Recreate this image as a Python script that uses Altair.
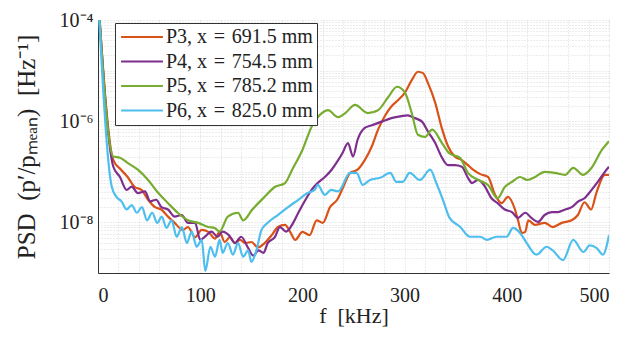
import altair as alt
import pandas as pd

# ---- data (f in kHz, PSD in 1/Hz) ----
series_names = ["P3, x = 691.5 mm", "P4, x = 754.5 mm", "P5, x = 785.2 mm", "P6, x = 825.0 mm"]
series_colors = ["#D95319", "#7E2F8E", "#77AC30", "#4DBEEE"]

p3_f = [0, 15, 22.5, 29, 36, 42.5, 49, 55.8, 62, 68.5, 75, 83, 88, 95, 101.5, 108, 114.5, 119, 124, 129,
        134, 139, 144, 150, 156.6, 163, 170, 176, 183, 188, 193, 200, 207, 214, 220, 227, 234, 240, 246.6,
        254, 261, 268, 274, 281, 287, 293.5, 300, 307, 313, 318, 323, 330, 336, 342.5, 349, 356, 362, 367,
        374, 381.6, 388.5, 395, 401, 408, 411, 414.6, 418, 421, 427.6, 437, 445, 453.7, 463.5, 469.5, 476,
        482.5, 487.6, 496, 500]
p3_v = [3e-4, 1.7e-7, 1.1e-7, 7.9e-8, 5.0e-8, 4.4e-8, 2.8e-8, 2.0e-8, 1.8e-8, 1.3e-8, 9.8e-9, 7.1e-9, 8.1e-9,
        5.1e-9, 7.1e-9, 6.5e-9, 4.8e-9, 6.5e-9, 4.1e-9, 5.1e-9, 3.9e-9, 4.5e-9, 3.9e-9, 4.1e-9, 3.2e-9, 3.9e-9,
        5.6e-9, 8.1e-9, 8.9e-9, 6.5e-9, 4.5e-9, 6.5e-9, 5.6e-9, 1.1e-8, 9.8e-9, 2.0e-8, 2.8e-8, 5.0e-8, 9.5e-8,
        1.1e-7, 1.7e-7, 3.2e-7, 6.8e-7, 1.3e-6, 1.95e-6, 2.6e-6, 3.6e-6, 6.5e-6, 9.5e-6, 8.9e-6, 5.6e-6, 2.3e-6,
        7.8e-7, 3.2e-7, 2.0e-7, 1.7e-7, 1.35e-7, 1.1e-7, 9.0e-8, 7.9e-8, 3.5e-8, 2.4e-8, 3.2e-8, 1.8e-8, 1.1e-8,
        6.2e-9, 6.5e-9, 1.1e-8, 8.9e-9, 9.8e-9, 8.1e-9, 9.8e-9, 1.1e-8, 1.4e-8, 2.5e-8, 1.8e-8, 3.8e-8, 8.7e-8,
        8.7e-8]

p4_f = [0, 15, 21.5, 28, 33, 39, 46, 51, 57, 62, 68.5, 75, 82, 88, 95, 100, 104.5, 111, 117, 122, 128, 134,
        140, 147, 152, 157, 162, 166, 173, 178, 184, 191, 196, 203, 209, 215, 222, 228.6, 235, 239, 244.6,
        249.5, 254, 261, 268, 277.6, 287, 297, 303, 310, 317, 323, 330, 336, 342.5, 349, 356, 362, 366, 372,
        378.6, 385, 391, 398, 405, 411, 418, 424, 430.5, 437, 444, 450, 457, 463.5, 470, 476, 483, 489, 496,
        500]
p4_v = [3e-4, 1.26e-7, 7.9e-8, 4.4e-8, 5.1e-8, 3.8e-8, 4.1e-8, 2.6e-8, 2.8e-8, 2.0e-8, 1.8e-8, 1.3e-8, 1.4e-8,
        9.8e-9, 9.8e-9, 4.5e-9, 5.2e-9, 6.6e-9, 5.2e-9, 6.6e-9, 5.6e-9, 3.9e-9, 5.2e-9, 3.1e-9, 2.2e-9, 2.8e-9,
        2.5e-9, 3.9e-9, 5.1e-9, 8.1e-9, 6.6e-9, 9.8e-9, 1.55e-8, 2.8e-8, 4.4e-8, 6.0e-8, 7.9e-8, 1.1e-7, 1.7e-7,
        2.3e-7, 3.7e-7, 2.0e-7, 4.3e-7, 7.4e-7, 8.3e-7, 9.8e-7, 1.15e-6, 1.26e-6, 1.3e-6, 1.15e-6, 9.8e-7,
        6.2e-7, 3.7e-7, 2.0e-7, 1.35e-7, 1.35e-7, 1.26e-7, 7.6e-8, 6.0e-8, 6.9e-8, 5.1e-8, 3.0e-8, 2.4e-8,
        1.8e-8, 1.6e-8, 1.23e-8, 1.55e-8, 1.23e-8, 1.02e-8, 1.4e-8, 1.6e-8, 1.6e-8, 1.8e-8, 2.0e-8, 2.6e-8,
        3.0e-8, 4.4e-8, 6.3e-8, 1.0e-7, 1.26e-7]

p5_f = [0, 15, 21.5, 29, 39, 49, 59, 68.5, 78, 88, 98, 108, 114, 119, 127, 137, 142, 151, 163, 173, 183, 190,
        200, 209, 219, 225, 235, 242, 251.5, 264, 274, 284, 292.5, 300, 307, 313, 320, 327, 336.6, 344, 354,
        362, 372, 381.6, 391, 398, 405, 413, 420, 427.6, 437, 447, 457, 465, 474.6, 483, 493, 500]
p5_v = [3e-4, 2.0e-7, 1.9e-7, 1.5e-7, 1.1e-7, 6.9e-8, 3.8e-8, 2.4e-8, 1.55e-8, 1.1e-8, 9.8e-9, 8.1e-9, 7.8e-9,
        6.6e-9, 1.3e-8, 1.55e-8, 1.1e-8, 1.8e-8, 3.2e-8, 5.0e-8, 6.0e-8, 1.1e-7, 2.7e-7, 7.8e-7, 1.45e-6,
        1.65e-6, 1.2e-6, 1.45e-6, 2.1e-6, 1.45e-6, 1.65e-6, 3.0e-6, 4.8e-6, 3.8e-6, 1.45e-6, 5.4e-7, 4.9e-7,
        6.8e-7, 3.7e-7, 2.3e-7, 1.9e-7, 9.5e-8, 6.9e-8, 5.5e-8, 3.0e-8, 5.0e-8, 6.3e-8, 7.9e-8, 6.9e-8, 7.9e-8,
        1.0e-7, 9.5e-8, 8.7e-8, 1.2e-7, 8.7e-8, 1.2e-7, 2.7e-7, 4.0e-7]

p6_f = [0, 13.4, 18, 23, 28, 33, 38, 43, 48, 53, 58, 62.3, 67, 72, 77, 82, 87, 91.6, 96.6, 101.5, 105, 110,
        114.5, 119, 122, 127, 132, 137, 142, 147, 150, 155, 160, 166, 176, 186, 196, 205, 212, 215, 222, 228,
        235, 246.6, 253, 259, 266, 276, 286, 292, 298, 305, 315, 325, 331, 337.5, 344, 354, 364, 374, 380.5,
        390, 400, 406, 413, 419.5, 429, 439, 445, 455, 465, 475, 481, 488, 494, 500]
p6_v = [3e-4, 5.1e-8, 3.2e-8, 2.6e-8, 1.8e-8, 2.2e-8, 1.55e-8, 2.0e-8, 1.1e-8, 1.55e-8, 9.8e-9, 1.3e-8, 7.8e-9,
        1.1e-8, 5.2e-9, 8.1e-9, 3.9e-9, 6.6e-9, 3.3e-9, 4.5e-9, 1.1e-9, 3.3e-9, 2.1e-9, 4.5e-9, 2.5e-9, 3.9e-9,
        2.3e-9, 3.9e-9, 2.1e-9, 2.8e-9, 1.66e-9, 2.8e-9, 7.1e-9, 9.8e-9, 1.4e-8, 2.0e-8, 2.8e-8, 3.8e-8, 4.4e-8,
        5.5e-8, 3.5e-8, 4.4e-8, 4.1e-8, 9.5e-8, 9.5e-8, 5.5e-8, 6.9e-8, 7.6e-8, 9.5e-8, 6.3e-8, 6.3e-8, 9.5e-8,
        6.9e-8, 1.1e-7, 6.0e-8, 2.8e-8, 1.23e-8, 8.3e-9, 5.2e-9, 5.2e-9, 4.5e-9, 5.2e-9, 5.2e-9, 7.8e-9, 6.2e-9,
        3.9e-9, 2.3e-9, 3.3e-9, 2.8e-9, 1.8e-9, 4.5e-9, 2.6e-9, 3.5e-9, 3.1e-9, 2.3e-9, 5.6e-9]

x_grid = list(range(0, 501, 20))
y_labels = {1e-4: "10⁻⁴", 1e-6: "10⁻⁶", 1e-8: "10⁻⁸"}
y_grid = [m * 10.0 ** e for e in range(-9, -4) for m in range(1, 10)] + [1e-4]

rows = []
for name, fs, vs in zip(series_names, [p3_f, p4_f, p5_f, p6_f], [p3_v, p4_v, p5_v, p6_v]):
    for i, (f, v) in enumerate(zip(fs, vs)):
        rows.append({"series": name, "f": f, "psd": v, "i": i})
df = pd.DataFrame(rows)

font = "Times New Roman"
label_expr = " : ".join(
    [f"abs(datum.value - {k}) < {k}*1e-6 ? '{v}'" for k, v in y_labels.items()]
) + " : ''"

chart = alt.Chart(df).mark_line(strokeWidth=2.2, clip=True, interpolate="monotone").encode(
    x=alt.X("f:Q", scale=alt.Scale(domain=[0, 500], nice=False),
            axis=alt.Axis(values=x_grid, labelExpr="datum.value % 100 == 0 ? datum.label : ''",
                          title="f\u2002[kHz]", grid=True, ticks=False, labelPadding=12,
                          titlePadding=0, titleFontSize=22)),
    y=alt.Y("psd:Q", scale=alt.Scale(type="log", domain=[1e-9, 1e-4], nice=False),
            axis=alt.Axis(values=y_grid, labelExpr=label_expr, grid=True, ticks=False,
                          title="PSD\u2002(p′/pₘₑₐₙ)\u2002[Hz⁻¹]", labelPadding=5, titlePadding=20,
                          titleFontSize=25)),
    color=alt.Color("series:N", scale=alt.Scale(domain=series_names, range=series_colors),
                    legend=alt.Legend(title=None, orient="none", legendX=17, legendY=3,
                                      symbolType="M-2.5,0H2.5", symbolSize=280, symbolStrokeWidth=2.2,
                                      symbolOffset=13,
                                      labelExpr="replace(datum.label, ' = ', '\u2004=\u2004')",
                                      labelFont=font, labelFontSize=20, labelColor="#222",
                                      fillColor="white", strokeColor="#333", padding=4,
                                      rowPadding=4.5, labelOffset=14, labelLimit=300)),
    order="i:Q",
).properties(
    width=511, height=253,
    autosize=alt.AutoSizeParams(type="none"),
    padding={"left": 90, "top": 12, "right": 12, "bottom": 62},
).configure_view(stroke=None).configure_axis(
    labelFont=font, titleFont=font, labelFontSize=20,
    labelColor="#222", titleColor="#222", titleFontWeight="normal",
    domainColor="#333", domainWidth=1,
    gridColor="#aaa", gridDash=[1, 2], gridOpacity=0.45, gridWidth=1,
)

chart.save("out.html", embed_options={"renderer": "svg", "actions": False})
